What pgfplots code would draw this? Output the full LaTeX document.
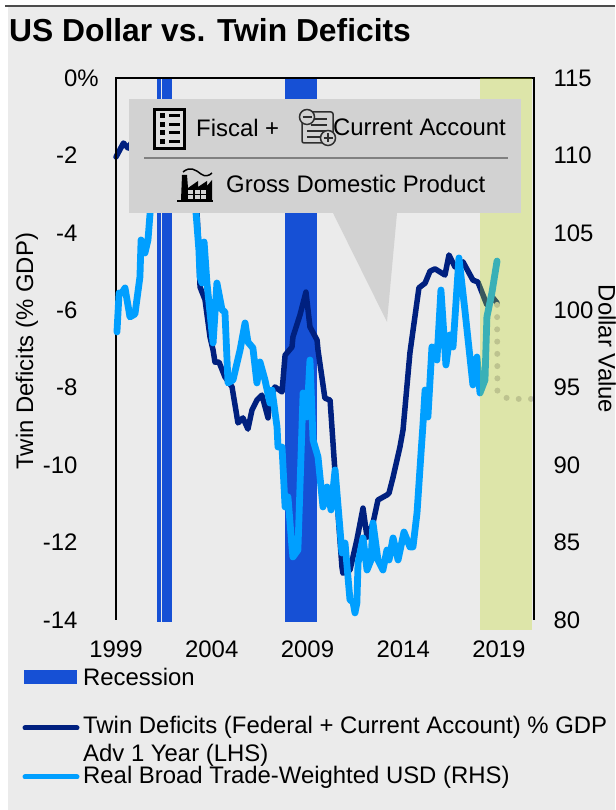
\documentclass[border=0pt]{standalone}
\usepackage{fontspec}
\setmainfont{Liberation Sans}
\usepackage{pgfplots}
\pgfplotsset{compat=1.18}
\definecolor{bgc}{HTML}{EBEBEB}
\definecolor{navyc}{HTML}{00207F}
\definecolor{skyc}{HTML}{009FFF}
\definecolor{recc}{HTML}{1650D5}
\definecolor{boxc}{HTML}{D2D2D2}
\definecolor{greenc}{HTML}{BFDA12}
\definecolor{dotc}{HTML}{BDBAC6}
\definecolor{iconc}{HTML}{2E2E2E}
\newcommand{\fs}{\fontsize{23.9}{28}\selectfont}
\pgfplotsset{common/.style={
  scale only axis,width=418pt,height=542pt,at={(116pt,190pt)},anchor=south west,
  xmin=1999,xmax=2020.83,clip=false,
  axis line style={draw=none},major tick length=0pt,
  tick label style={font=\fs,text=black}}}
\begin{document}
\begin{tikzpicture}
\useasboundingbox (0,0) rectangle (615pt,810pt);
\clip (0,0) rectangle (615pt,810pt);
\fill[bgc] (7.5pt,0pt) rectangle (615pt,804pt);
\draw[black!70,line width=2pt] (5pt,804pt) -- (615pt,804pt);
\begin{axis}[common,ymin=-14,ymax=0,
  xtick={1999,2004,2009,2014,2019},xticklabels={1999,2004,2009,2014,2019},
  xticklabel style={yshift=-17pt},
  ytick={-14,-12,-10,-8,-6,-4,-2,0},yticklabels={-14,-12,-10,-8,-6,-4,-2,0\rlap{\%}},
  yticklabel style={anchor=east,xshift=-35pt},
  every axis y label/.style={at={(axis description cs:-0.213,0.496)},rotate=90,anchor=center,font=\fs},
  ylabel={Twin Deficits (\% GDP)}]
\addplot[draw=none,fill=recc] coordinates {(2001.14,0)(2001.33,0)(2001.33,-14.05)(2001.14,-14.05)} --cycle;
\addplot[draw=none,fill=recc] coordinates {(2001.38,0)(2001.92,0)(2001.92,-14.05)(2001.38,-14.05)} --cycle;
\addplot[draw=none,fill=recc] coordinates {(2007.85,0)(2009.50,0)(2009.50,-14.05)(2007.85,-14.05)} --cycle;
\addplot[navyc,line width=5.5pt,line join=round,line cap=round] coordinates {
(1999.00,-2.04)(1999.39,-1.68)(1999.63,-1.81)(2000.25,-1.34)(2001.30,-0.83)(2002.34,-1.08)(2002.86,-2.38)
(2003.23,-3.49)(2003.33,-4.44)(2003.39,-5.40)(2003.65,-5.73)(2003.91,-6.69)(2004.07,-7.03)(2004.17,-7.34)
(2004.38,-7.34)(2004.69,-7.72)(2005.06,-7.98)(2005.37,-8.91)(2005.63,-8.78)(2005.89,-9.07)(2006.10,-8.58)
(2006.36,-8.32)(2006.62,-8.19)(2006.94,-8.78)(2007.04,-8.27)(2007.30,-7.98)(2007.67,-8.11)(2007.83,-7.16)
(2008.19,-6.95)(2008.24,-6.69)(2008.61,-6.12)(2008.92,-5.53)(2009.13,-6.43)(2009.50,-6.77)(2009.55,-7.03)
(2009.91,-8.27)(2010.18,-8.32)(2010.44,-10.20)(2010.80,-12.63)(2010.85,-12.79)(2011.22,-12.71)(2011.58,-11.93)
(2011.90,-11.11)(2012.11,-11.86)(2012.42,-11.50)(2012.68,-10.90)(2013.15,-10.77)(2013.26,-10.72)(2013.47,-10.31)
(2013.83,-9.53)(2013.99,-9.09)(2014.35,-7.10)(2014.82,-5.42)(2015.14,-5.30)(2015.40,-4.99)(2015.66,-4.93)
(2016.18,-5.09)(2016.39,-4.57)(2016.70,-4.88)(2017.12,-4.75)(2017.64,-5.22)(2017.90,-5.27)(2018.37,-5.86)
(2018.69,-5.68)(2018.90,-5.81)};
\addplot[dotc,line width=6pt,line cap=round,dash pattern=on 0pt off 12.25pt] coordinates {
(2018.90,-5.86)(2018.92,-8.11)(2019.42,-8.27)(2020.04,-8.29)(2020.72,-8.29)};
\end{axis}
\draw[black,line width=1.5pt] (116pt,190pt) -- (116pt,732pt) -- (534pt,732pt) -- (534pt,190pt);
\begin{axis}[common,ymin=80,ymax=115,axis y line*=right,axis x line=none,
  ytick={80,85,90,95,100,105,110,115},yticklabels={80,85,90,95,100,105,110,115},
  yticklabel style={anchor=west,xshift=16pt},
  every axis y label/.style={at={(axis description cs:1.175,0.5)},rotate=-90,anchor=center,font=\fs},
  ylabel={Dollar Value}]
\addplot[skyc,line width=6.8pt,line join=round,line cap=round] coordinates {
(1999.05,98.60)(1999.16,101.12)(1999.31,101.12)(1999.47,101.44)(1999.73,99.57)(1999.99,99.76)(2000.25,102.15)
(2000.31,104.54)(2000.51,103.70)(2000.67,104.54)(2000.78,106.28)(2001.19,110.35)(2001.82,111.97)(2002.60,111.32)
(2002.97,109.06)(2003.18,106.28)(2003.33,103.89)(2003.39,102.15)(2003.49,101.76)(2003.60,104.41)(2003.75,101.76)
(2004.07,97.89)(2004.27,101.76)(2004.54,100.02)(2004.69,99.89)(2004.85,95.31)(2005.11,95.50)(2005.48,97.44)
(2005.74,99.18)(2005.89,97.95)(2006.15,97.57)(2006.36,95.31)(2006.52,96.66)(2006.78,95.50)(2007.04,94.01)
(2007.15,94.85)(2007.41,92.46)(2007.46,91.17)(2007.67,91.17)(2007.83,87.30)(2007.98,87.95)(2008.19,84.72)
(2008.24,84.07)(2008.50,84.52)(2008.77,94.66)(2008.97,93.11)(2009.13,96.79)(2009.29,91.63)(2009.55,90.53)
(2009.81,87.30)(2010.02,88.59)(2010.23,87.11)(2010.44,89.69)(2010.80,84.33)(2010.96,84.97)(2011.22,81.29)
(2011.38,81.17)(2011.48,80.46)(2011.58,81.10)(2011.64,83.68)(2011.90,85.30)(2012.11,83.23)(2012.32,83.88)
(2012.42,86.27)(2012.68,83.88)(2012.94,83.23)(2013.15,84.52)(2013.26,83.88)(2013.47,85.30)(2013.73,83.88)
(2014.04,85.68)(2014.35,84.72)(2014.51,84.72)(2014.72,86.91)(2014.93,90.79)(2015.03,92.59)(2015.14,94.85)
(2015.29,93.11)(2015.50,97.63)(2015.76,96.79)(2015.97,101.31)(2016.23,96.47)(2016.44,98.41)(2016.60,97.63)
(2016.91,103.38)(2017.22,100.02)(2017.64,95.18)(2017.85,96.98)(2018.01,94.66)(2018.27,95.50)(2018.37,99.57)
(2018.63,101.12)(2018.90,103.18)};
\addplot[draw=none,fill=greenc,fill opacity=0.3] coordinates {(2018.01,115)(2020.72,115)(2020.72,79.36)(2018.01,79.36)} --cycle;
\end{axis}
\begin{scope}[x=1pt,y=-1pt,shift={(0pt,810pt)}]
% callout
\fill[boxc] (333,213) -- (387,322) -- (397,213) -- cycle;
\fill[boxc] (129,99) rectangle (521,213);
\draw[black!50,line width=1.5pt] (144,158) -- (508,158);
\node[anchor=west,inner sep=0pt,font=\fs] at (196,127.5) {Fiscal +};
\node[anchor=west,inner sep=0pt,font=\fs] at (333,127.5) {Current Account};
\node[anchor=west,inner sep=0pt,font=\fs] at (226,184) {Gross Domestic Product};
% list icon
\draw[black,line width=3pt,fill=boxc!70!white] (154.5,109.5) rectangle (184.5,148.5);
\foreach \yy in {116,125,133,142}{
  \fill[black] (160,\yy-2.5) rectangle (165,\yy+2.5);
  \fill[black] (169,\yy-1.5) rectangle (180,\yy+1.5);}
% document icon
\draw[iconc,line width=1.5pt,rounded corners=2pt] (302,112) rectangle (333,143);
\foreach \yy/\xa in {119/314,125/311,131/307,137/307}{\draw[iconc,line width=1.5pt] (\xa,\yy) -- (327,\yy);}
\draw[iconc,line width=1.5pt,fill=boxc] (307,117) circle (7.5);
\draw[iconc,line width=1.5pt] (302.5,117) -- (311.5,117);
\draw[iconc,line width=1.5pt,fill=boxc] (328,138) circle (7.5);
\draw[iconc,line width=1.5pt] (323.5,138) -- (332.5,138) (328,133.5) -- (328,142.5);
% factory icon
\draw[black,line width=1.5pt] (183,172) .. controls (190,166) and (196,170) .. (201,174) .. controls (205,177) and (209,176) .. (212,173);
\fill[black] (181,200) -- (182,175) -- (187,175) -- (188,188) -- (198,181) -- (198,187) -- (207,181) -- (207,186) -- (212,180) -- (212,200) -- cycle;
\fill[black] (177,200) rectangle (213,202);
\foreach \xx in {188,194.5,201}{\foreach \yy in {190,195.5}{\fill[boxc] (\xx,\yy) rectangle +(5,4);}}
% title
\node[anchor=west,inner sep=0pt,font=\fontsize{31.8}{36}\selectfont\bfseries] at (9,30) {US Dollar vs. Twin Deficits};
% legend
\fill[recc] (24,670) rectangle (77,684);
\node[anchor=west,inner sep=0pt,font=\fs] at (83,677) {Recession};
\draw[navyc,line width=5pt,line cap=round] (25,728) -- (77,728);
\node[anchor=west,inner sep=0pt,font=\fs] at (83,727) {Twin Deficits (Federal + Current Account) \% GDP};
\node[anchor=west,inner sep=0pt,font=\fs] at (83,755) {Adv 1 Year (LHS)};
\draw[skyc,line width=5pt,line cap=round] (25,777) -- (77,777);
\node[anchor=west,inner sep=0pt,font=\fs] at (83,777) {Real Broad Trade-Weighted USD (RHS)};
\end{scope}
\end{tikzpicture}
\end{document}
